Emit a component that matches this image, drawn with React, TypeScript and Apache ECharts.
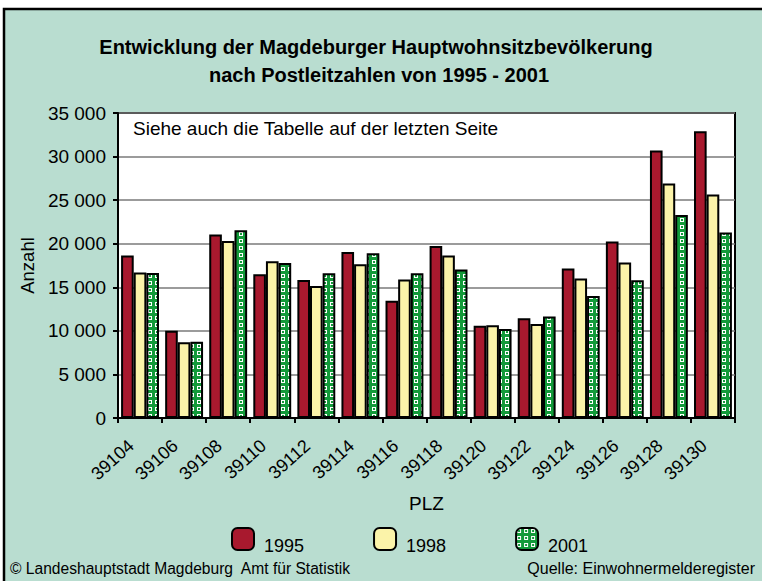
import React, { useEffect, useRef } from "react";
import * as echarts from "echarts";

const categories = ["39104", "39106", "39108", "39110", "39112", "39114", "39116", "39118", "39120", "39122", "39124", "39126", "39128", "39130"];
const values1995 = [18650, 10000, 21050, 16500, 15850, 19050, 13450, 19750, 10600, 11450, 17150, 20250, 30700, 32900];
const values1998 = [16700, 8700, 20300, 18000, 15150, 17650, 15900, 18650, 10650, 10800, 16000, 17850, 26900, 25650];
const values2001 = [16650, 8750, 21550, 17800, 16600, 18900, 16600, 17050, 10200, 11650, 14000, 15800, 23300, 21300];
const seriesNames = ["1995", "1998", "2001"];
const yTicks = { min: 0, max: 35000, interval: 5000 };

const fmt = (v: number) => String(v).replace(/\B(?=(\d{3})+(?!\d))/g, " ");

function makePattern(): string {
  const c = document.createElement("canvas");
  c.width = 7;
  c.height = 7;
  const ctx = c.getContext("2d")!;
  ctx.fillStyle = "#139a3a";
  ctx.fillRect(0, 0, 7, 7);
  ctx.fillStyle = "#ffffff";
  ctx.fillRect(1, 1, 4, 4);
  ctx.fillStyle = "#139a3a";
  ctx.fillRect(2, 2, 2, 2);
  return c.toDataURL();
}

export default function App() {
  const ref = useRef<HTMLDivElement>(null);
  useEffect(() => {
    document.body.style.margin = "0";
    const chart = echarts.init(ref.current!, undefined, { renderer: "svg" });
    const pattern = { image: makePattern(), repeat: "repeat" as const };
    const font = "'Liberation Sans', Arial, sans-serif";
    const colors = ["#a8192e", "#fbf3a9", pattern];
    chart.setOption({
      animation: false,
      backgroundColor: "#ffffff",
      textStyle: { fontFamily: font, color: "#000" },
      graphic: [
        {
          type: "rect",
          z: -10,
          shape: { x: 4, y: 9, width: 800, height: 620 },
          style: { fill: "#b9ddd0", stroke: "#000", lineWidth: 2.5 },
          silent: true,
        },
        {
          type: "text",
          x: 376,
          y: 47,
          style: {
            text: "Entwicklung der Magdeburger Hauptwohnsitzbevölkerung",
            font: `bold 20px ${font}`,
            fill: "#000",
            align: "center",
            verticalAlign: "middle",
          },
        },
        {
          type: "text",
          x: 379,
          y: 75,
          style: {
            text: "nach Postleitzahlen von 1995 - 2001",
            font: `bold 20px ${font}`,
            fill: "#000",
            align: "center",
            verticalAlign: "middle",
          },
        },
        {
          type: "text",
          x: 133,
          y: 128,
          z: 100,
          style: {
            text: "Siehe auch die Tabelle auf der letzten Seite",
            font: `19px ${font}`,
            fill: "#000",
            verticalAlign: "middle",
          },
        },
        {
          type: "text",
          x: 10,
          y: 568,
          style: {
            text: "© Landeshauptstadt Magdeburg  Amt für Statistik",
            font: `15.6px ${font}`,
            fill: "#000",
            verticalAlign: "middle",
          },
        },
        {
          type: "text",
          x: 755,
          y: 568,
          style: {
            text: "Quelle: Einwohnermelderegister",
            font: `16px ${font}`,
            fill: "#000",
            align: "right",
            verticalAlign: "middle",
          },
        },
      ],
      legend: {
        left: 231,
        top: 527,
        padding: 0,
        itemWidth: 22,
        itemHeight: 22,
        itemGap: 69,
        formatter: "{a|{name}}",
        textStyle: {
          fontSize: 18,
          fontFamily: font,
          color: "#000",
          rich: { a: { fontSize: 18, fontFamily: font, color: "#000", padding: [14, 0, 0, 5] } },
        },
        data: seriesNames,
      },
      grid: {
        left: 118,
        right: 27,
        top: 113,
        bottom: 163,
        show: true,
        backgroundColor: "#ffffff",
        borderColor: "#000",
        borderWidth: 2,
      },
      xAxis: {
        type: "category",
        data: categories,
        name: "PLZ",
        nameLocation: "middle",
        nameGap: 76,
        nameTextStyle: { fontSize: 19, color: "#000" },
        axisLine: { lineStyle: { color: "#000", width: 2 } },
        axisTick: { show: true, length: 5, lineStyle: { color: "#000", width: 2 } },
        axisLabel: { rotate: 42, fontSize: 18, color: "#000", margin: 17, interval: 0, padding: [0, 12, 0, 0] },
      },
      yAxis: {
        type: "value",
        min: yTicks.min,
        max: yTicks.max,
        interval: yTicks.interval,
        name: "Anzahl",
        nameLocation: "middle",
        nameGap: 71,
        nameTextStyle: { fontSize: 18.5, color: "#000" },
        axisLine: { show: true, lineStyle: { color: "#000", width: 2 } },
        axisTick: { show: true, length: 5, lineStyle: { color: "#000", width: 2 } },
        axisLabel: { fontSize: 19, color: "#000", margin: 12, formatter: (v: number) => fmt(v) },
        splitLine: { lineStyle: { color: "#7a7a7a", width: 1.5 } },
      },
      series: [values1995, values1998, values2001].map((d, i) => ({
        name: seriesNames[i],
        type: "bar",
        data: d,
        barGap: "0%",
        barCategoryGap: "14%",
        itemStyle: { color: colors[i], borderColor: "#000", borderWidth: 2 },
      })),
    });
    return () => chart.dispose();
  }, []);
  return <div ref={ref} style={{ width: 762, height: 581 }} />;
}
